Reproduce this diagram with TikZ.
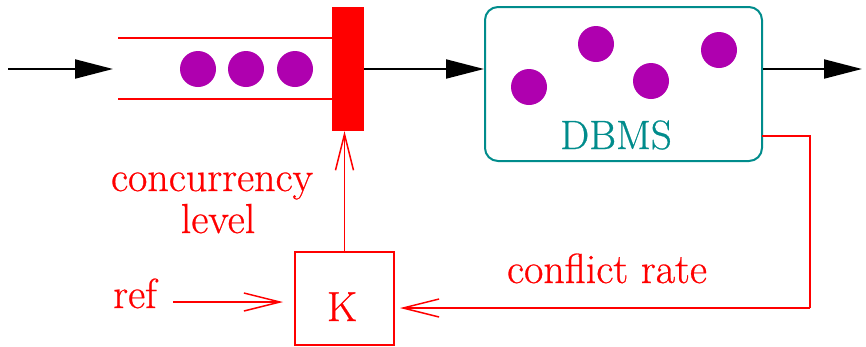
\documentclass[tikz,border=0pt]{standalone}
\usepackage{fontspec}
\newfontfamily\lmfont[FakeBold=0.6]{Latin Modern Roman}
\usetikzlibrary{arrows.meta}
\definecolor{dotc}{RGB}{175,0,175}
\definecolor{tealc}{RGB}{0,140,140}
\definecolor{redc}{RGB}{255,0,0}
\tikzset{
  blackarrow/.style={draw=black, line width=2pt, -{Triangle[length=38pt,width=19pt]}},
  redline/.style={draw=redc, line width=1.5pt},
  redarrow/.style={redline, -{Straight Barb[length=36pt,width=18pt,line width=1.5pt]}},
  barbox/.style={fill=redc, draw=none, minimum width=32pt, minimum height=124pt, inner sep=0pt},
  dbbox/.style={draw=tealc, line width=2pt, rounded corners=13pt, minimum width=277pt, minimum height=154pt, inner sep=0pt},
  kbox/.style={draw=redc, line width=1.5pt, minimum width=99pt, minimum height=93pt, inner sep=0pt},
  lbl/.style={text=redc, font=\lmfont\fontsize{42}{50}\selectfont, inner sep=0pt, anchor=base},
  dblbl/.style={text=tealc, font=\lmfont\fontsize{41}{49}\selectfont, inner sep=0pt, anchor=base},
  dot/.style={fill=dotc}
}
\begin{document}
\begin{tikzpicture}[x=1pt,y=-1pt]
\path[use as bounding box, fill=white] (0,0) rectangle (866,346);

% queue bar
\node[barbox] (bar) at (348,69) {};
% queue walls
\coordinate (qtl) at (118,38);
\coordinate (qbl) at (118,99);
\draw[redline] (qtl) -- (qtl -| bar.west);
\draw[redline] (qbl) -- (qbl -| bar.west);
% queued items
\fill[dot] (198,69) circle (18pt);
\fill[dot] (246,69) circle (18pt);
\fill[dot] (295,69) circle (18pt);

% input arrow
\coordinate (in) at (8,69);
\coordinate (qin) at (113,69);
\draw[blackarrow] (in) -- (qin);

% DBMS box
\node[dbbox] (db) at (623.5,84) {};
\fill[dot] (529,87) circle (18pt);
\fill[dot] (596,44) circle (18pt);
\fill[dot] (651,81) circle (18pt);
\fill[dot] (719,50) circle (18pt);
\node[dblbl] (dbl) at (616,149) {DBMS};

% bar -> DBMS
\draw[blackarrow] (bar.east) -- (bar.east -| db.west);
% output
\coordinate (out) at (862,69);
\draw[blackarrow] (bar.east -| db.east) -- (out);

% controller
\node[kbox] (K) at (344.5,298.5) {};
\node[lbl] (kl) at (342,321) {K};

% K -> bar
\draw[redarrow] (K.north) -- (K.north |- bar.south);

% feedback
\coordinate (fb1) at (762,136);
\coordinate (fb2) at (810,136);
\coordinate (fb3) at (810,308);
\coordinate (fb4) at (400,308);
\draw[redline] (fb1) -- (fb2) -- (fb3);
\draw[redarrow] (fb3) -- (fb4);

% ref input
\node[lbl] (ref) at (135,308) {ref};
\coordinate (r1) at (173,302);
\coordinate (r2) at (283,302);
\draw[redarrow] (r1) -- (r2);

% labels
\node[lbl] (conc) at (212,191) {concurrency};
\node[lbl] (lev) at (218,233) {level};
\node[lbl] (cr) at (607,283) {conflict rate};
\end{tikzpicture}
\end{document}
